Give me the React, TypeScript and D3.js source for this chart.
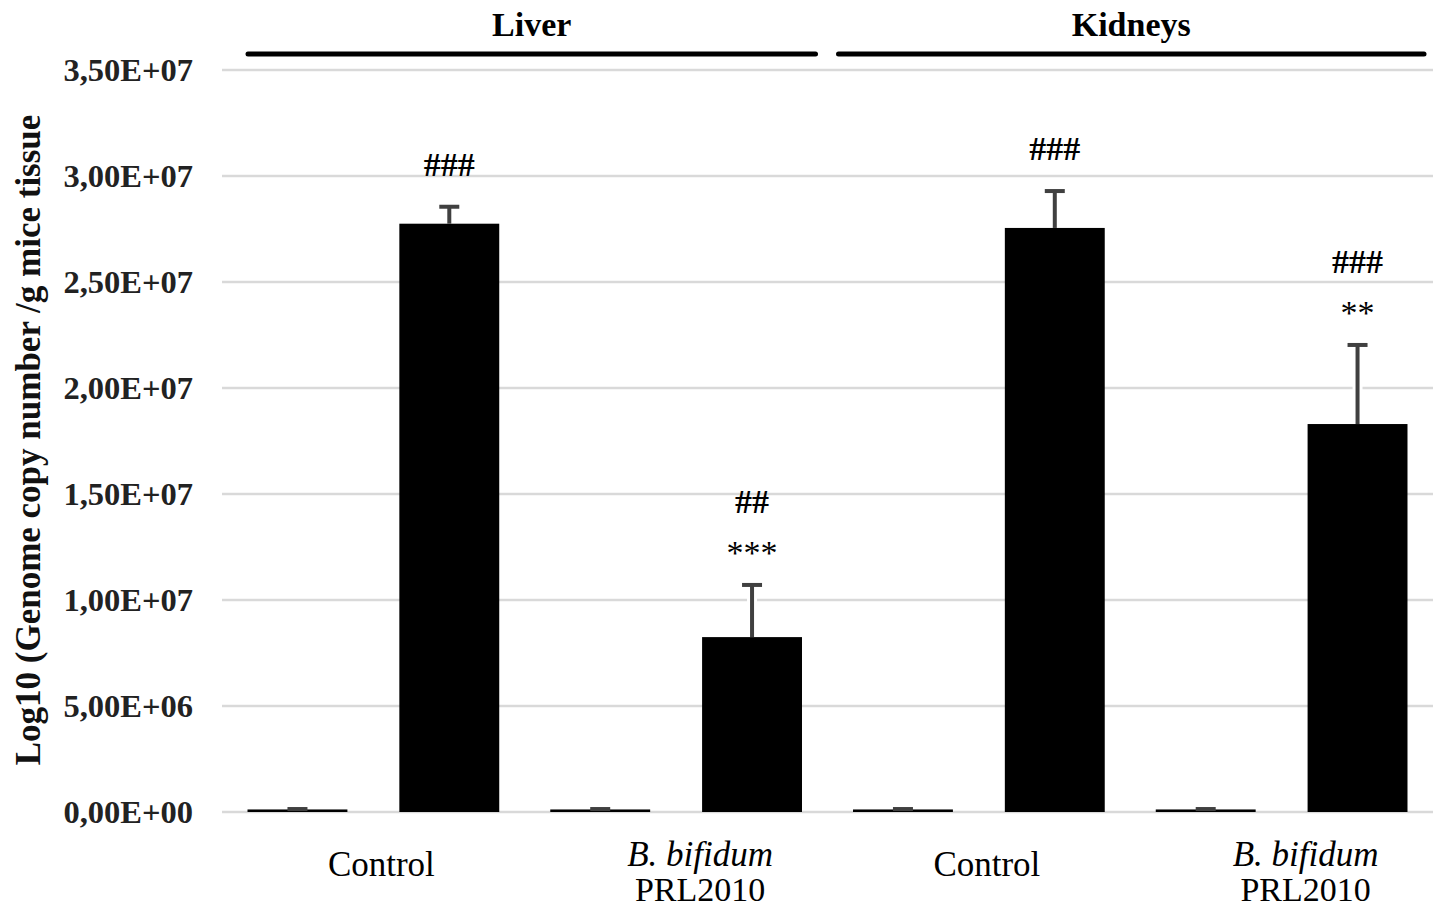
import React from 'react';
import * as d3 from 'd3';

// chart values
const groups = ['Liver', 'Kidneys'];
const categories = ['Control', 'B. bifidum', 'Control', 'B. bifidum'];
const series = ['low', 'high'];
const lowValues = [1.2e5, 1.2e5, 1.2e5, 1.2e5];
const lowErrors = [2e4, 2e4, 2e4, 2e4];
const highValues = [2.775e7, 8.25e6, 2.755e7, 1.83e7];
const highErrors = [8.0e5, 2.46e6, 1.74e6, 3.73e6];
// significance marks, listed bottom line first
const marks = [['###'], ['***', '##'], ['###'], ['**', '###']];
const yTicks = [0, 5e6, 1e7, 1.5e7, 2e7, 2.5e7, 3e7, 3.5e7];

const W = 1435;
const H = 911;
const FONT = "'Liberation Serif', 'Times New Roman', serif";

const fmt = (v: number) => {
  const [m, e] = v.toExponential(2).split('e');
  const exp = Math.abs(+e).toString().padStart(2, '0');
  return `${m.replace('.', ',')}E${+e < 0 ? '-' : '+'}${exp}`;
};

export default function App() {
  const x0 = d3
    .scaleBand<number>()
    .domain(d3.range(categories.length))
    .range([222, 1433])
    .padding(0);
  const x1 = d3
    .scaleBand<string>()
    .domain(series)
    .range([0, x0.bandwidth()])
    .paddingInner(0.342)
    .paddingOuter(0.168);
  const y = d3.scaleLinear().domain([0, 3.5e7]).range([812, 70]);
  const bw = x1.bandwidth();

  const bars = categories.flatMap((_, i) => [
    {i, s: 'low', v: lowValues[i], e: lowErrors[i]},
    {i, s: 'high', v: highValues[i], e: highErrors[i]},
  ]);

  return (
    <svg
      width={W}
      height={H}
      style={{position: 'absolute', left: 0, top: 0, background: '#fff'}}
      fontFamily={FONT}>
      {/* gridlines */}
      {yTicks.map(t => (
        <line
          key={t}
          x1={222}
          x2={1433}
          y1={y(t)}
          y2={y(t)}
          stroke="#d9d9d9"
          strokeWidth={2.5}
        />
      ))}
      {yTicks.map(t => (
        <text
          key={'l' + t}
          x={193}
          y={y(t)}
          dy="0.35em"
          textAnchor="end"
          fontSize={32.5}
          fontWeight="bold"
          fill="#222">
          {fmt(t)}
        </text>
      ))}
      <text
        transform={`translate(40, 440) rotate(-90)`}
        textAnchor="middle"
        fontSize={35}
        fontWeight="bold"
        fill="#111">
        Log10 (Genome copy number /g mice tissue
      </text>

      {/* bars */}
      {bars.map(b => {
        const bx = x0(b.i)! + x1(b.s)!;
        const cx = bx + bw / 2;
        const top = y(b.v + b.e);
        return (
          <g key={`${b.i}-${b.s}`}>
            <line x1={cx} x2={cx} y1={y(b.v)} y2={top} stroke="#fff" strokeWidth={10} />
            <rect x={bx} y={y(b.v)} width={bw} height={y(0) - y(b.v)} fill="#000" />
            <line x1={cx} x2={cx} y1={y(b.v)} y2={top} stroke="#404040" strokeWidth={4} />
            <line x1={cx - 10} x2={cx + 10} y1={top} y2={top} stroke="#404040" strokeWidth={4} />
          </g>
        );
      })}

      {/* significance marks */}
      {marks.map((lines, i) => {
        const cx = x0(i)! + x1('high')! + bw / 2;
        const top = y(highValues[i] + highErrors[i]);
        return lines.map((m, k) => {
          const bottom = top - 31 - k * 41;
          const star = m.includes('*');
          return (
            <text
              key={`${i}-${k}`}
              x={cx}
              y={bottom + (star ? 10 : 0)}
              textAnchor="middle"
              fontSize={34}
              fontWeight={star ? 'normal' : 'bold'}
              fill="#000">
              {m}
            </text>
          );
        });
      })}

      {/* group headers */}
      {groups.map((g, gi) => {
        const start = x0(gi * 2)! + (gi === 0 ? 26 : 11);
        const end = x0(gi * 2 + 1)! + x0.bandwidth() - (gi === 0 ? 12 : 9);
        return (
          <g key={g}>
            <line x1={start} x2={end} y1={54} y2={54} stroke="#000" strokeWidth={5} strokeLinecap="round" />
            <text x={(start + end) / 2} y={36} textAnchor="middle" fontSize={34} fontWeight="bold" fill="#000">
              {g}
            </text>
          </g>
        );
      })}

      {/* category labels */}
      {categories.map((c, i) => {
        const cx = x0(i)! + x0.bandwidth() / 2;
        if (c === 'Control') {
          return (
            <text key={i} x={cx + 8} y={876} textAnchor="middle" fontSize={35} fill="#000">
              {c}
            </text>
          );
        }
        return (
          <g key={i}>
            <text x={cx + 24} y={866} textAnchor="middle" fontSize={35} fontStyle="italic" fill="#000">
              {c}
            </text>
            <text x={cx + 24} y={901} textAnchor="middle" fontSize={34} fill="#000">
              PRL2010
            </text>
          </g>
        );
      })}
    </svg>
  );
}
